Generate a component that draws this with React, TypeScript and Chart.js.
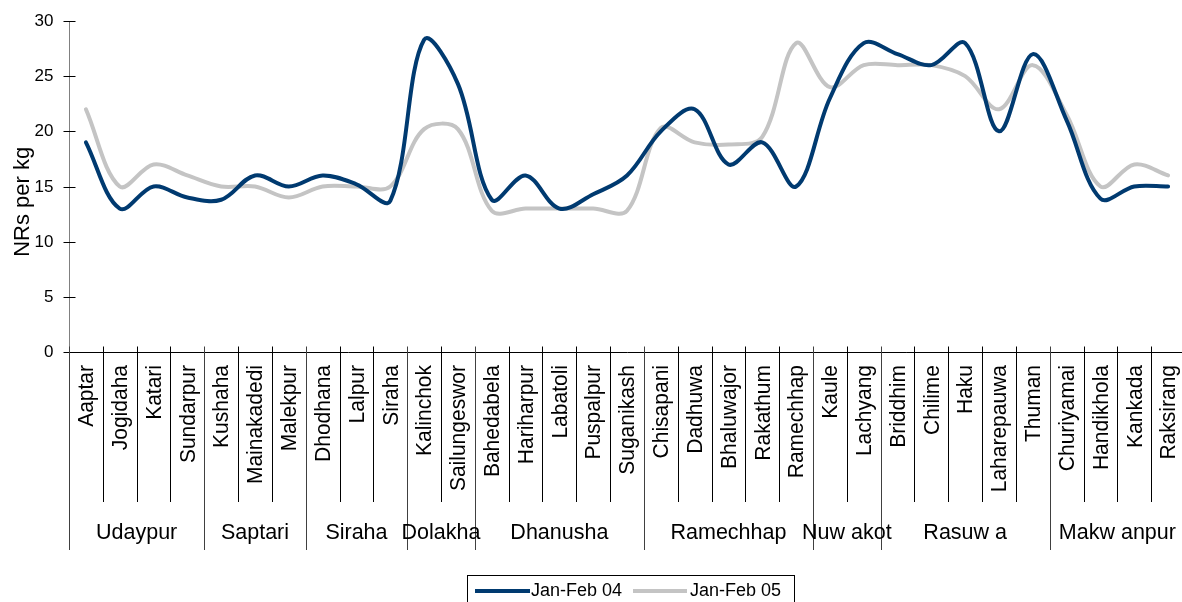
import React, { useEffect, useRef } from "react";
import { Chart, registerables } from "chart.js";

Chart.register(...registerables);

const categories = [
  "Aaptar", "Jogidaha", "Katari", "Sundarpur",
  "Kushaha", "Mainakadedi", "Malekpur",
  "Dhodhana", "Lalpur", "Siraha",
  "Kalinchok", "Sailungeswor",
  "Bahedabela", "Hariharpur", "Labatoli", "Puspalpur", "Suganikash",
  "Chisapani", "Dadhuwa", "Bhaluwajor", "Rakathum", "Ramechhap",
  "Kaule", "Lachyang",
  "Briddhim", "Chilime", "Haku", "Laharepauwa", "Thuman",
  "Churiyamai", "Handikhola", "Kankada", "Raksirang",
];

const groups = ["Udaypur", "Saptari", "Siraha", "Dolakha", "Dhanusha", "Ramechhap", "Nuw akot", "Rasuw a", "Makw anpur"];
const groupSizes = [4, 3, 3, 2, 5, 5, 2, 5, 4];

const seriesLabels = ["Jan-Feb 04", "Jan-Feb 05"];
const janFeb04 = [19, 13, 15, 14, 13.8, 16, 15, 16, 15.2, 13.7, 28.3, 24.3, 13.8, 16, 13, 14.3, 16, 20, 22, 17, 19, 15, 23, 28, 27, 26, 28, 20, 27, 21, 13.9, 15, 15];
const janFeb05 = [22, 15, 17, 16, 15, 15, 14, 15, 15, 15, 20.2, 20.2, 12.8, 13, 13, 13, 12.8, 20.3, 19, 18.8, 19.5, 28, 24, 26, 26, 26, 25, 22, 26, 21.5, 15, 17, 16];

const yTicks = [0, 5, 10, 15, 20, 25, 30];
const yTitle = "NRs per kg";

const colors = ["#003a70", "#c4c4c4"];
const FONT = '"Liberation Sans", Arial, sans-serif';

const axesPlugin = {
  id: "customAxes",
  afterDraw(chart: any) {
    const ctx = chart.ctx;
    const area = chart.chartArea;
    const xs = chart.scales.x;
    const ys = chart.scales.y;
    const y0 = Math.round(ys.getPixelForValue(0)) + 0.5;
    const yTop = ys.getPixelForValue(30);
    const left = Math.round(area.left) + 0.5;
    ctx.save();
    // y axis line
    ctx.strokeStyle = "#808080";
    ctx.lineWidth = 1;
    ctx.beginPath();
    ctx.moveTo(left, Math.round(yTop));
    ctx.lineTo(left, y0);
    ctx.stroke();
    // y ticks & labels
    ctx.strokeStyle = "#000";
    ctx.fillStyle = "#000";
    ctx.font = `17px ${FONT}`;
    ctx.textAlign = "right";
    ctx.textBaseline = "middle";
    yTicks.forEach((v) => {
      const y = Math.round(ys.getPixelForValue(v)) + 0.5;
      ctx.beginPath();
      ctx.moveTo(left - 6, y);
      ctx.lineTo(left + 6, y);
      ctx.stroke();
      ctx.fillText(String(v), left - 16, y);
    });
    // y title
    ctx.save();
    ctx.translate(23, (yTop + y0) / 2 + 15);
    ctx.rotate(-Math.PI / 2);
    ctx.textAlign = "center";
    ctx.font = `22px ${FONT}`;
    ctx.fillText(yTitle, 0, 0);
    ctx.restore();
    // x axis line
    ctx.beginPath();
    ctx.moveTo(left, y0);
    ctx.lineTo(area.right, y0);
    ctx.stroke();
    // separators
    const n = categories.length;
    const w = xs.getPixelForValue(1) - xs.getPixelForValue(0);
    const groupBounds = new Set<number>();
    let acc = 0;
    groupBounds.add(0);
    groupSizes.forEach((s) => {
      acc += s;
      groupBounds.add(acc);
    });
    for (let k = 0; k <= n; k++) {
      const x = Math.round(xs.getPixelForValue(0) - w / 2 + k * w) + 0.5;
      const isGroup = groupBounds.has(k);
      ctx.strokeStyle = isGroup ? "#404040" : "#000";
      ctx.beginPath();
      ctx.moveTo(x, y0 - 6);
      ctx.lineTo(x, isGroup ? 550 : 502);
      ctx.stroke();
    }
    // category labels
    ctx.fillStyle = "#000";
    ctx.font = `21px ${FONT}`;
    categories.forEach((c, i) => {
      const x = xs.getPixelForValue(i);
      ctx.save();
      ctx.translate(x + 1, 365);
      ctx.rotate(-Math.PI / 2);
      ctx.scale(1, 1.08);
      ctx.textAlign = "right";
      ctx.textBaseline = "middle";
      ctx.fillText(c, 0, 0);
      ctx.restore();
    });
    // group labels
    ctx.textAlign = "center";
    ctx.textBaseline = "alphabetic";
    ctx.font = `21.5px ${FONT}`;
    let start = 0;
    groups.forEach((g, gi) => {
      const end = start + groupSizes[gi];
      const x1 = xs.getPixelForValue(start) - w / 2;
      const x2 = xs.getPixelForValue(end - 1) + w / 2;
      ctx.fillText(g, (x1 + x2) / 2, 539);
      start = end;
    });
    // legend
    ctx.strokeStyle = "#000";
    ctx.lineWidth = 1;
    ctx.strokeRect(467.5, 575.5, 327, 40);
    ctx.font = `18px ${FONT}`;
    ctx.textAlign = "left";
    ctx.textBaseline = "middle";
    const items = [
      { x1: 475, x2: 530, tx: 531 },
      { x1: 633, x2: 687, tx: 690 },
    ];
    items.forEach((it, i) => {
      ctx.strokeStyle = colors[i];
      ctx.lineWidth = 4;
      ctx.beginPath();
      ctx.moveTo(it.x1, 591);
      ctx.lineTo(it.x2, 591);
      ctx.stroke();
      ctx.fillStyle = "#000";
      ctx.fillText(seriesLabels[i], it.tx, 591);
    });
    ctx.restore();
  },
};

export default function App() {
  const ref = useRef<HTMLCanvasElement | null>(null);
  useEffect(() => {
    if (!ref.current) return;
    const chart = new Chart(ref.current, {
      type: "line",
      data: {
        labels: categories,
        datasets: [
          { label: seriesLabels[0], data: janFeb04, borderColor: colors[0], backgroundColor: colors[0] },
          { label: seriesLabels[1], data: janFeb05, borderColor: colors[1], backgroundColor: colors[1] },
        ],
      },
      options: {
        responsive: false,
        animation: false,
        devicePixelRatio: 1,
        layout: { padding: { left: 69, top: 21, right: 5, bottom: 250 } },
        elements: {
          point: { radius: 0 },
          line: { tension: 0.35, borderWidth: 4, borderCapStyle: "round", borderJoinStyle: "round" },
        },
        scales: {
          x: { type: "category", display: false, offset: true },
          y: { display: false, min: 0, max: 30 },
        },
        plugins: { legend: { display: false }, tooltip: { enabled: false } },
      },
      plugins: [axesPlugin],
    });
    return () => chart.destroy();
  }, []);
  return (
    <div style={{ position: "absolute", left: 0, top: 0, width: 1182, height: 602, overflow: "hidden", background: "#fff" }}>
      <canvas ref={ref} width={1190} height={602} style={{ width: 1190, height: 602, display: "block" }} />
    </div>
  );
}
